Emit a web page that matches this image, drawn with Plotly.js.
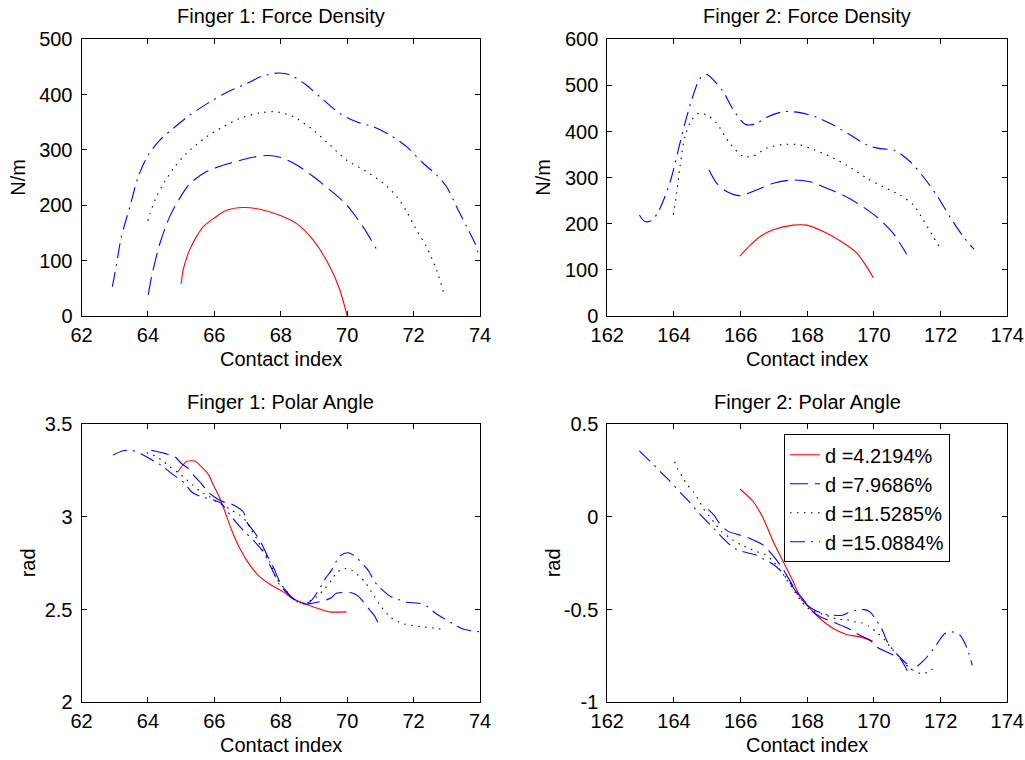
<!DOCTYPE html>
<html>
<head>
<meta charset="utf-8">
<script src="https://cdn.plot.ly/plotly-3.0.1.min.js"></script>
<style>
html,body{margin:0;padding:0;background:#fff;}
#chart{width:1025px;height:760px;}
</style>
</head>
<body>
<div id="chart"></div>
<script>
// ---------- DATA ----------
var seriesNames = ["d =4.2194%", "d =7.9686%", "d =11.5285%", "d =15.0884%"];

// Finger 1: Force Density
var f1fd_x1 = [65, 65.06, 65.26, 65.46, 65.66, 65.97, 66.37, 66.87, 67.37, 67.97, 68.48, 68.98, 69.48, 69.78, 70];
var f1fd_y1 = [58, 83, 120, 143, 161, 176, 191, 196, 193, 182, 167, 137, 89, 47, 0];
var f1fd_x2 = [64.01, 64.11, 64.36, 64.66, 64.96, 65.26, 65.77, 66.47, 67.17, 67.62, 67.97, 68.48, 68.98, 69.48, 69.98, 70.48, 70.87];
var f1fd_y2 = [38, 71, 131, 180, 213, 239, 261, 276, 287, 290, 287, 273, 252, 228, 201, 161, 122];
var f1fd_x3 = [64.0, 64.06, 64.26, 64.51, 64.81, 65.16, 65.77, 66.27, 66.77, 67.37, 67.87, 68.38, 68.98, 69.48, 69.98, 70.58, 71.09, 71.49, 71.79, 72.09, 72.39, 72.69, 72.94];
var f1fd_y3 = [172, 185, 216, 243, 270, 294, 324, 342, 357, 367, 369, 360, 336, 309, 282, 261, 240, 216, 189, 155, 125, 83, 35];
var f1fd_x4 = [62.93, 63.05, 63.2, 63.46, 63.71, 64.01, 64.36, 64.76, 65.26, 65.87, 66.37, 66.97, 67.42, 67.92, 68.27, 68.78, 69.18, 69.78, 70.28, 70.78, 71.29, 71.79, 72.29, 72.69, 72.99, 73.29, 73.6, 73.85, 74.0];
var f1fd_y4 = [53, 92, 143, 198, 252, 291, 318, 339, 363, 387, 404, 420, 433, 439, 436, 417, 396, 366, 351, 342, 327, 306, 276, 255, 234, 198, 161, 131, 104];

// Finger 2: Force Density
var f2fd_x1 = [165.98, 166.28, 166.58, 166.98, 167.58, 167.98, 168.48, 168.98, 169.48, 169.78, 169.98];
var f2fd_y1 = [130, 153, 172, 187, 197, 197, 183, 163, 137, 107, 83];
var f2fd_x2 = [165.05, 165.28, 165.58, 165.98, 166.48, 166.98, 167.58, 168.08, 168.58, 169.08, 169.58, 170.08, 170.58, 170.98];
var f2fd_y2 = [317, 288, 270, 261, 273, 288, 295, 291, 277, 262, 241, 215, 179, 134];
var f2fd_x3 = [163.98, 164.08, 164.18, 164.33, 164.53, 164.76, 165.03, 165.28, 165.68, 166.08, 166.38, 166.78, 167.28, 167.78, 168.18, 168.68, 169.18, 169.78, 170.28, 170.78, 171.18, 171.48, 171.78, 171.96];
var f2fd_y3 = [220, 266, 324, 389, 425, 440, 434, 418, 374, 346, 347, 364, 372, 371, 361, 346, 327, 299, 280, 262, 241, 208, 172, 150];
var f2fd_x4 = [162.96, 163.13, 163.33, 163.53, 163.73, 163.93, 164.13, 164.33, 164.53, 164.78, 164.98, 165.18, 165.48, 165.78, 166.13, 166.43, 166.78, 167.28, 167.78, 168.28, 168.78, 169.28, 169.78, 170.18, 170.63, 171.08, 171.48, 171.88, 172.28, 172.68, 173.0];
var f2fd_y4 = [219, 205, 207, 226, 259, 302, 360, 418, 468, 515, 524, 512, 486, 447, 416, 416, 431, 443, 441, 431, 414, 393, 371, 363, 359, 335, 302, 262, 215, 172, 145];

// Finger 1: Polar Angle
var f1pa_x1 = [64.89, 65.01, 65.16, 65.41, 65.61, 65.82, 65.97, 66.17, 66.32, 66.52, 66.77, 67.07, 67.37, 67.72, 68.07, 68.38, 68.78, 69.18, 69.48, 69.98];
var f1pa_y1 = [3.241, 3.271, 3.298, 3.302, 3.271, 3.23, 3.172, 3.1, 3.028, 2.93, 2.83, 2.74, 2.677, 2.632, 2.596, 2.557, 2.528, 2.503, 2.488, 2.488];
var f1pa_x2 = [64.1, 64.5, 64.81, 65.0, 65.21, 65.4, 65.56, 65.86, 66.07, 66.3, 66.47, 66.87, 66.97, 67.2, 67.42, 67.6, 67.8, 68.0, 68.37, 68.7, 69.03, 69.48, 69.68, 70.13, 70.33, 70.68, 70.83, 70.99];
var f1pa_y2 = [3.36, 3.343, 3.325, 3.29, 3.262, 3.22, 3.19, 3.127, 3.1, 3.08, 3.073, 3.028, 2.974, 2.92, 2.857, 2.79, 2.72, 2.64, 2.56, 2.53, 2.537, 2.56, 2.588, 2.591, 2.573, 2.498, 2.465, 2.404];
var f1pa_x3 = [63.96, 64.21, 64.44, 64.66, 64.91, 65.14, 65.36, 65.59, 65.86, 66.07, 66.3, 66.52, 66.77, 66.97, 67.12, 67.27, 67.47, 67.67, 67.87, 68.07, 68.37, 68.62, 68.85, 69.08, 69.33, 69.53, 69.68, 69.93, 70.13, 70.53, 70.73, 71.03, 71.29, 71.54, 71.79, 72.29, 72.74, 72.94];
var f1pa_y3 = [3.347, 3.329, 3.304, 3.271, 3.239, 3.205, 3.172, 3.136, 3.109, 3.082, 3.06, 3.037, 3.01, 2.974, 2.929, 2.884, 2.82, 2.758, 2.668, 2.623, 2.56, 2.533, 2.545, 2.569, 2.614, 2.659, 2.7, 2.722, 2.713, 2.65, 2.596, 2.515, 2.461, 2.434, 2.42, 2.407, 2.398, 2.389];
var f1pa_x4 = [62.95, 63.25, 63.5, 63.8, 64.2, 64.46, 64.71, 65.11, 65.31, 65.61, 66.0, 66.2, 66.52, 66.87, 67.2, 67.47, 67.77, 67.97, 68.37, 68.65, 68.88, 69.23, 69.36, 69.53, 69.78, 70.03, 70.23, 70.63, 70.76, 70.91, 71.29, 71.54, 71.79, 72.19, 72.44, 72.64, 73.09, 73.31, 73.54, 74.0];
var f1pa_y4 = [3.334, 3.357, 3.36, 3.34, 3.3, 3.271, 3.235, 3.181, 3.136, 3.109, 3.09, 3.075, 3.0, 2.928, 2.87, 2.812, 2.704, 2.633, 2.56, 2.535, 2.542, 2.632, 2.672, 2.713, 2.789, 2.807, 2.789, 2.713, 2.672, 2.632, 2.573, 2.555, 2.54, 2.533, 2.515, 2.483, 2.434, 2.41, 2.393, 2.38];

// Finger 2: Polar Angle
var f2pa_x1 = [165.98, 166.38, 166.68, 166.98, 167.28, 167.58, 167.78, 168.08, 168.38, 168.78, 169.18, 169.58, 169.96];
var f2pa_y1 = [0.151, 0.082, -0.008, -0.134, -0.242, -0.35, -0.431, -0.494, -0.548, -0.602, -0.634, -0.647, -0.67];
var f2pa_x2 = [165.03, 165.2, 165.35, 165.6, 165.98, 166.28, 166.68, 166.83, 167.08, 167.3, 167.6, 167.9, 168.1, 168.4, 168.83, 169.23, 169.48, 169.88, 170.08, 170.48, 170.78, 171.0];
var f2pa_y2 = [0.04, 0.01, -0.03, -0.075, -0.098, -0.116, -0.152, -0.179, -0.233, -0.29, -0.38, -0.45, -0.5, -0.54, -0.571, -0.602, -0.629, -0.665, -0.701, -0.737, -0.764, -0.83];
var f2pa_x3 = [164.02, 164.12, 164.25, 164.39, 164.59, 164.74, 164.88, 165.06, 165.23, 165.43, 165.66, 165.8, 166.03, 166.26, 166.5, 166.73, 166.96, 167.2, 167.5, 167.8, 168.0, 168.23, 168.48, 168.7, 168.93, 169.16, 169.41, 169.63, 169.88, 170.1, 170.33, 170.53, 170.76, 170.95, 171.18, 171.41, 171.63, 171.88];
var f2pa_y3 = [0.298, 0.257, 0.217, 0.176, 0.133, 0.091, 0.046, 0.005, -0.035, -0.08, -0.11, -0.128, -0.152, -0.17, -0.188, -0.202, -0.237, -0.29, -0.37, -0.45, -0.49, -0.512, -0.526, -0.539, -0.553, -0.553, -0.566, -0.571, -0.593, -0.625, -0.665, -0.71, -0.755, -0.796, -0.827, -0.845, -0.836, -0.8];
var f2pa_x4 = [162.96, 163.4, 163.61, 163.85, 164.23, 164.46, 164.65, 165.0, 165.15, 165.33, 165.58, 165.83, 166.08, 166.48, 166.7, 166.93, 167.18, 167.5, 167.8, 168.1, 168.5, 169.05, 169.23, 169.48, 169.7, 169.88, 170.08, 170.23, 170.43, 170.78, 171.03, 171.13, 171.48, 171.83, 171.98, 172.13, 172.35, 172.58, 172.73, 172.83, 172.95];
var f2pa_y4 = [0.357, 0.28, 0.241, 0.199, 0.124, 0.082, 0.041, -0.026, -0.053, -0.089, -0.134, -0.17, -0.188, -0.206, -0.229, -0.25, -0.287, -0.36, -0.44, -0.49, -0.524, -0.53, -0.517, -0.503, -0.5, -0.512, -0.56, -0.602, -0.683, -0.758, -0.8, -0.823, -0.777, -0.7, -0.661, -0.629, -0.62, -0.638, -0.683, -0.728, -0.8];

// Tick labels
var xTicks1 = [62, 64, 66, 68, 70, 72, 74];
var xTicks2 = [162, 164, 166, 168, 170, 172, 174];
var yTicksFD1 = [0, 100, 200, 300, 400, 500];
var yTicksFD2 = [0, 100, 200, 300, 400, 500, 600];
var yTicksPA1 = [2, 2.5, 3, 3.5];
var yTicksPA1Text = ["2", "2.5", "3", "3.5"];
var yTicksPA2 = [-1, -0.5, 0, 0.5];
var yTicksPA2Text = ["-1", "-0.5", "0", "0.5"];

var panelTitles = ["Finger 1: Force Density", "Finger 2: Force Density", "Finger 1: Polar Angle", "Finger 2: Polar Angle"];
var xLabel = "Contact index";
var yLabelFD = "N/m";
var yLabelPA = "rad";

// ---------- STYLE ----------
var FONT = "Liberation Sans, Arial, Helvetica, sans-serif";
var FS = 20;
var W = 1025, H = 760;
var styles = [
  {color: "#ff0000", dash: "solid"},
  {color: "#0000ff", dash: "18px,7px"},
  {color: "#000000", dash: "1.5px,5.5px"},
  {color: "#0000ff", dash: "15px,6px,2px,6px"}
];

function tr(x, y, i, xa, ya, legend) {
  return {
    type: "scatter", mode: "lines", x: x, y: y, xaxis: xa, yaxis: ya,
    name: seriesNames[i], showlegend: legend, legendgroup: "g" + i,
    line: {color: styles[i].color, dash: styles[i].dash, width: 1.1, shape: "spline", smoothing: 0.8},
    hoverinfo: "x+y"
  };
}

var data = [
  tr(f1fd_x1, f1fd_y1, 0, "x", "y", false),
  tr(f1fd_x2, f1fd_y2, 1, "x", "y", false),
  tr(f1fd_x3, f1fd_y3, 2, "x", "y", false),
  tr(f1fd_x4, f1fd_y4, 3, "x", "y", false),
  tr(f2fd_x1, f2fd_y1, 0, "x2", "y2", false),
  tr(f2fd_x2, f2fd_y2, 1, "x2", "y2", false),
  tr(f2fd_x3, f2fd_y3, 2, "x2", "y2", false),
  tr(f2fd_x4, f2fd_y4, 3, "x2", "y2", false),
  tr(f1pa_x1, f1pa_y1, 0, "x3", "y3", false),
  tr(f1pa_x2, f1pa_y2, 1, "x3", "y3", false),
  tr(f1pa_x3, f1pa_y3, 2, "x3", "y3", false),
  tr(f1pa_x4, f1pa_y4, 3, "x3", "y3", false),
  tr(f2pa_x1, f2pa_y1, 0, "x4", "y4", true),
  tr(f2pa_x2, f2pa_y2, 1, "x4", "y4", true),
  tr(f2pa_x3, f2pa_y3, 2, "x4", "y4", true),
  tr(f2pa_x4, f2pa_y4, 3, "x4", "y4", true)
];

// plot-area pixel boxes
var colL = [81.5, 480], colR = [607.3, 1007.3];
var rowT = [39.3, 316], rowB = [424.3, 702.3];
function xd(c) { return [c[0] / W, c[1] / W]; }
function yd(r) { return [1 - r[1] / H, 1 - r[0] / H]; }

function ax(extra) {
  var a = {
    showline: true, linecolor: "#000", linewidth: 1, mirror: "ticks",
    ticks: "inside", ticklen: 5, tickwidth: 1, tickcolor: "#000",
    showgrid: false, zeroline: false, fixedrange: true,
    tickfont: {family: FONT, size: FS, color: "#000"}
  };
  for (var k in extra) a[k] = extra[k];
  return a;
}

var layout = {
  width: W, height: H,
  margin: {l: 0, r: 0, t: 0, b: 0},
  paper_bgcolor: "#fff", plot_bgcolor: "#fff",
  font: {family: FONT, size: FS, color: "#000"},
  showlegend: true,
  legend: {
    x: 784 / W, y: 1 - 434.3 / H, xanchor: "left", yanchor: "top",
    bgcolor: "#fff", bordercolor: "#000", borderwidth: 1,
    font: {family: FONT, size: FS, color: "#000"},
    traceorder: "grouped", tracegroupgap: 0
  },
  xaxis: ax({domain: xd(colL), anchor: "y", range: [62, 74], tickvals: xTicks1, ticklabelstandoff: 1}),
  yaxis: ax({domain: yd(rowT), anchor: "x", range: [0, 500], tickvals: yTicksFD1, ticklabelstandoff: 4}),
  xaxis2: ax({domain: xd(colR), anchor: "y2", range: [162, 174], tickvals: xTicks2, ticklabelstandoff: 1}),
  yaxis2: ax({domain: yd(rowT), anchor: "x2", range: [0, 600], tickvals: yTicksFD2, ticklabelstandoff: 4}),
  xaxis3: ax({domain: xd(colL), anchor: "y3", range: [62, 74], tickvals: xTicks1, ticklabelstandoff: 1}),
  yaxis3: ax({domain: yd(rowB), anchor: "x3", range: [2, 3.5], tickvals: yTicksPA1, ticktext: yTicksPA1Text, ticklabelstandoff: 4}),
  xaxis4: ax({domain: xd(colR), anchor: "y4", range: [162, 174], tickvals: xTicks2, ticklabelstandoff: 1}),
  yaxis4: ax({domain: yd(rowB), anchor: "x4", range: [-1, 0.5], tickvals: yTicksPA2, ticktext: yTicksPA2Text, ticklabelstandoff: 4}),
  annotations: []
};

function ann(text, px, py, rot) {
  return {
    text: text, xref: "paper", yref: "paper", x: px / W, y: 1 - py / H,
    xanchor: "center", yanchor: "middle", showarrow: false, textangle: rot || 0,
    font: {family: FONT, size: FS, color: "#000"}
  };
}
var cL = (colL[0] + colL[1]) / 2, cR = (colR[0] + colR[1]) / 2;
layout.annotations.push(ann(panelTitles[0], cL, 16));
layout.annotations.push(ann(panelTitles[1], cR, 16));
layout.annotations.push(ann(panelTitles[2], cL, 402));
layout.annotations.push(ann(panelTitles[3], cR, 402));
layout.annotations.push(ann(xLabel, cL, 359));
layout.annotations.push(ann(xLabel, cR, 359));
layout.annotations.push(ann(xLabel, cL, 745));
layout.annotations.push(ann(xLabel, cR, 745));
layout.annotations.push(ann(yLabelFD, 18, (rowT[0] + rowT[1]) / 2, -90));
layout.annotations.push(ann(yLabelFD, 543, (rowT[0] + rowT[1]) / 2, -90));
layout.annotations.push(ann(yLabelPA, 28, (rowB[0] + rowB[1]) / 2, -90));
layout.annotations.push(ann(yLabelPA, 553, (rowB[0] + rowB[1]) / 2, -90));

Plotly.newPlot("chart", data, layout, {displayModeBar: false, staticPlot: true});
</script>
</body>
</html>
